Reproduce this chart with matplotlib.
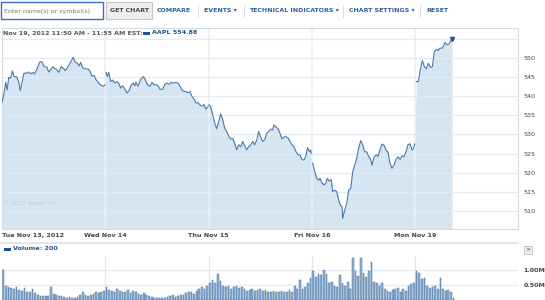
import numpy as np
import matplotlib
matplotlib.use('Agg')
from matplotlib import pyplot as plt
from matplotlib.patches import Rectangle

plt.rcParams['font.family'] = ['DejaVu Sans']

# price: position in trading days since Tue Nov 13 open, AAPL price
t = [0.00, 0.02, 0.036, 0.05, 0.065, 0.084, 0.10, 0.116, 0.142, 0.162, 0.177, 0.194, 0.213, 0.239,
     0.258, 0.278, 0.297, 0.317, 0.342, 0.368, 0.387, 0.407, 0.433, 0.452, 0.471, 0.491, 0.51, 0.53,
     0.549, 0.574, 0.593, 0.613, 0.632, 0.658, 0.69, 0.71, 0.729, 0.748, 0.762, 0.781, 0.806, 0.833,
     0.852, 0.871, 0.891, 0.91, 0.929, 0.949, 0.965, 0.98, 0.997,
     1.007, 1.019, 1.033, 1.052, 1.072, 1.091, 1.11, 1.13, 1.149, 1.168, 1.194, 1.213, 1.232, 1.252,
     1.271, 1.285, 1.297, 1.317, 1.343, 1.368, 1.387, 1.407, 1.433, 1.452, 1.471, 1.491, 1.51, 1.53,
     1.556, 1.575, 1.594, 1.619, 1.639, 1.658, 1.684, 1.704, 1.723, 1.742, 1.762, 1.781, 1.801, 1.82,
     1.839, 1.859, 1.878, 1.897, 1.917, 1.936, 1.955, 1.975, 1.994,
     2.001, 2.02, 2.04, 2.059, 2.078, 2.098, 2.117, 2.137, 2.156, 2.175, 2.195, 2.214, 2.233, 2.253,
     2.272, 2.292, 2.311, 2.33, 2.35, 2.369, 2.388, 2.408, 2.427, 2.446, 2.466, 2.485, 2.504, 2.524,
     2.543, 2.562, 2.582, 2.601, 2.62, 2.633, 2.653, 2.672, 2.691, 2.711, 2.73, 2.749, 2.769, 2.788,
     2.807, 2.827, 2.846, 2.865, 2.885, 2.904, 2.923, 2.943, 2.957, 2.975, 2.988, 2.994,
     3.008, 3.027, 3.046, 3.066, 3.078, 3.098, 3.117, 3.136, 3.149, 3.168, 3.188, 3.201, 3.221, 3.24,
     3.259, 3.279, 3.292, 3.298, 3.318, 3.337, 3.356, 3.376, 3.395, 3.414, 3.434, 3.453, 3.472, 3.492,
     3.511, 3.53, 3.55, 3.569, 3.582, 3.601, 3.621, 3.64, 3.659, 3.679, 3.698, 3.717, 3.737, 3.756,
     3.775, 3.795, 3.814, 3.833, 3.853, 3.872, 3.891, 3.911, 3.93, 3.949, 3.969, 3.981, 3.995,
     4.011, 4.03, 4.049, 4.069, 4.088, 4.107, 4.127, 4.146, 4.166, 4.185, 4.204, 4.224, 4.237, 4.256,
     4.276, 4.288, 4.308, 4.327, 4.346, 4.356]
price = [538.4, 540.8, 543.6, 541.6, 544.9, 544.7, 546.6, 545.1, 545.0, 543.8, 541.4, 543.6, 546.0, 546.0,
         546.3, 545.8, 546.2, 545.8, 547.3, 549.0, 548.9, 547.7, 547.6, 546.3, 546.9, 547.7, 547.2, 546.9,
         546.2, 547.7, 547.3, 546.6, 547.4, 548.6, 550.1, 548.8, 548.6, 547.9, 548.8, 547.4, 547.1, 547.1,
         546.5, 545.2, 545.4, 544.3, 543.7, 543.0, 542.8, 542.6, 542.9,
         546.2, 545.1, 546.2, 543.8, 544.2, 543.4, 543.8, 543.4, 542.1, 542.7, 541.6, 540.8, 541.6, 543.0,
         543.4, 542.7, 543.6, 542.6, 544.4, 545.1, 544.4, 543.0, 542.6, 543.6, 542.9, 543.0, 542.7, 541.8,
         541.8, 543.0, 543.4, 543.1, 543.6, 543.4, 543.6, 543.4, 542.6, 541.6, 541.2, 541.2, 540.9, 541.2,
         539.9, 539.2, 538.2, 538.3, 537.7, 537.4, 537.8, 536.6, 537.3,
         537.7, 537.3, 535.1, 533.0, 531.5, 533.4, 535.4, 533.8, 531.6, 530.8, 529.5, 528.8, 529.0, 527.7,
         526.0, 527.3, 526.8, 528.2, 527.0, 526.0, 526.8, 527.3, 528.2, 527.3, 528.6, 530.8, 529.4, 528.2,
         528.6, 530.3, 530.8, 531.4, 531.2, 532.5, 531.9, 531.6, 530.3, 528.8, 529.4, 529.4, 529.1, 528.2,
         527.3, 526.8, 525.5, 524.7, 524.6, 523.5, 523.3, 524.5, 526.6, 525.5, 526.0, 525.1,
         522.5, 520.3, 518.6, 518.0, 518.6, 517.4, 516.8, 517.4, 518.6, 517.8, 518.2, 515.1, 515.5, 515.1,
         512.9, 511.4, 511.2, 508.1, 510.3, 512.0, 515.5, 515.9, 520.3, 522.0, 523.8, 526.4, 528.4, 527.3,
         525.5, 525.5, 524.2, 523.5, 522.0, 524.0, 524.7, 524.3, 526.0, 527.5, 527.2, 526.0, 525.3, 522.5,
         521.2, 522.0, 523.5, 524.2, 523.5, 524.4, 524.2, 525.5, 527.3, 527.6, 526.0, 526.2, 527.5,
         543.8, 543.8, 546.9, 549.3, 547.7, 547.2, 548.6, 547.5, 547.7, 551.6, 552.2, 551.9, 552.5, 552.5,
         553.1, 554.0, 553.4, 553.6, 554.5, 554.88]

# volume in millions, 10-minute bins
vol_tue = [1.00, 0.47, 0.44, 0.40, 0.38, 0.42, 0.32, 0.30, 0.40, 0.28, 0.25, 0.35, 0.22, 0.15, 0.12, 0.12,
           0.13, 0.12, 0.43, 0.20, 0.15, 0.12, 0.14, 0.10, 0.08, 0.09, 0.07, 0.08, 0.10, 0.18, 0.28, 0.15,
           0.12, 0.18, 0.20, 0.25, 0.22, 0.28, 0.30]
vol_wed = [0.44, 0.33, 0.30, 0.28, 0.35, 0.30, 0.25, 0.28, 0.32, 0.22, 0.30, 0.25, 0.20, 0.18, 0.22, 0.15,
           0.12, 0.10, 0.08, 0.07, 0.08, 0.06, 0.08, 0.10, 0.12, 0.15, 0.10, 0.12, 0.18, 0.15, 0.22, 0.28,
           0.25, 0.20, 0.30, 0.35, 0.42, 0.38, 0.45]
vol_thu = [0.55, 0.65, 0.58, 0.85, 0.62, 0.48, 0.42, 0.45, 0.38, 0.42, 0.45, 0.40, 0.42, 0.35, 0.30, 0.33,
           0.35, 0.30, 0.32, 0.38, 0.30, 0.32, 0.25, 0.28, 0.30, 0.27, 0.25, 0.30, 0.28, 0.25, 0.32, 0.28,
           0.45, 0.35, 0.68, 0.35, 0.42, 0.55, 0.72]
vol_fri = [0.95, 0.75, 0.88, 0.82, 1.00, 0.85, 0.55, 0.60, 0.45, 0.42, 0.82, 0.55, 0.45, 0.60, 0.35, 1.40,
           0.95, 0.80, 1.40, 0.90, 0.75, 0.95, 1.25, 0.60, 0.55, 0.45, 0.55, 0.35, 0.30, 0.25, 0.32, 0.35,
           0.40, 0.25, 0.35, 0.30, 0.45, 0.52, 0.55]
vol_mon = [0.98, 0.90, 0.70, 0.72, 0.45, 0.40, 0.42, 0.48, 0.35, 0.72, 0.38, 0.30, 0.32, 0.25, 0.08]

day_labels = ['Tue Nov 13, 2012', 'Wed Nov 14', 'Thu Nov 15', 'Fri Nov 16', 'Mon Nov 19']
price_ticks = [510, 515, 520, 525, 530, 535, 540, 545, 550]
vol_ticks = [0.5, 1.0]
vol_ticklabels = ['0.50M', '1.00M']

W, H = 545, 300
line_c = '#4a78aa'
fill_c = '#d5e5f1'
grid_c = '#e4ebf2'
edge_c = '#d3dbe3'
text_c = '#444444'
blue_c = '#1f5592'

fig = plt.figure(figsize=(W / 100, H / 100), dpi=100)
fig.patch.set_facecolor('white')

XMAX = 4.995
t = np.array(t)
price = np.array(price)

# ---- price panel
ax = fig.add_axes([2 / W, 1 - 229 / H, 516 / W, (229 - 27.5) / H])
ax.set_facecolor('none')
ax.set_xlim(0, XMAX)
ax.set_ylim(505.35, 557.9)
ax.fill_between(t, price, 505.35, color=fill_c, lw=0, zorder=1)
for k in range(1, 5):
    ax.axvline(k, color='#e9eff5', lw=1.1, zorder=1.5)
for v in price_ticks + [555]:
    ax.axhline(v, color=grid_c, lw=0.9, zorder=1.5)
day = np.floor(t).astype(int)
for d in range(5):
    m = day == d
    ax.plot(t[m], price[m], color=line_c, lw=0.8, zorder=3)
ax.plot(t[-1], price[-1], marker='v', ms=3, color=blue_c, zorder=4)
ax.yaxis.tick_right()
ax.set_yticks(price_ticks)
ax.set_yticklabels([str(v) for v in price_ticks])
ax.set_xticks(range(5))
ax.set_xticklabels(day_labels)
ax.tick_params(length=0, labelsize=4.6, labelcolor=text_c)
ax.tick_params(axis='y', pad=4)
ax.tick_params(axis='x', pad=3)
for lab in ax.get_xticklabels():
    lab.set_fontweight('bold')
ax.get_xticklabels()[0].set_horizontalalignment('left')
for s in ax.spines.values():
    s.set_color(edge_c)
    s.set_linewidth(0.8)
ax.text(0.01, 512, '\u00a9 2012 Yahoo! Inc.', fontsize=4.2, color='#b9cadb', va='center')

# ---- volume panel
av = fig.add_axes([2 / W, 0, 516 / W, 43 / H])
av.set_facecolor('none')
av.set_xlim(0, XMAX)
av.set_ylim(0, 1.433)
for d, vols in enumerate([vol_tue, vol_wed, vol_thu, vol_fri, vol_mon]):
    pos = d + (np.arange(len(vols)) + 0.5) / 39
    av.bar(pos, vols, width=0.65 / 39, color='#95b3d4', edgecolor='#44709f', lw=0.35, zorder=2)
for k in range(1, 5):
    av.axvline(k, color='#e0e7ee', lw=1.0, zorder=1)
for v in vol_ticks:
    av.axhline(v, color=grid_c, lw=0.9, zorder=1)
av.yaxis.tick_right()
av.set_yticks(vol_ticks)
av.set_yticklabels(vol_ticklabels)
av.set_xticks([])
av.tick_params(length=0, labelsize=4.6, labelcolor=text_c, pad=4)
for lab in av.get_yticklabels():
    lab.set_fontweight('bold')
for s in av.spines.values():
    s.set_visible(False)

# ---- page chrome in pixel coordinates
ui = fig.add_axes([0, 0, 1, 1])
ui.set_xlim(0, W)
ui.set_ylim(H, 0)
ui.axis('off')
ui.patch.set_alpha(0)

ui.add_patch(Rectangle((1, 2), 102, 17, fc='white', ec='#3b6cc4', lw=1.0))
ui.text(4, 11, 'Enter name(s) or symbol(s)', fontsize=4.5, color='#777777', va='center')
ui.add_patch(Rectangle((106, 2), 46, 17, fc='#eeeeee', ec='#c6c6c6', lw=0.8))
ui.text(129, 11, 'GET CHART', fontsize=4.5, color='#444444', va='center', ha='center', fontweight='bold')
menu = [(157, 'COMPARE'), (204, 'EVENTS \u25be'), (249, 'TECHNICAL INDICATORS \u25be'),
        (349, 'CHART SETTINGS \u25be'), (426, 'RESET')]
for x, s in menu:
    ui.text(x, 11, s, fontsize=4.5, color='#2e5e9a', va='center', fontweight='bold')
for x in [198, 244, 343, 420]:
    ui.plot([x, x], [5, 17], color='#d5dbe2', lw=0.7)

ui.text(3, 33, 'Nov 19, 2012 11:50 AM - 11:55 AM EST:', fontsize=4.5, color='#555555',
        va='center', fontweight='bold')
ui.add_patch(Rectangle((143, 31.5), 7, 3, fc=blue_c, ec='none'))
ui.text(152, 33, 'AAPL 554.88', fontsize=4.6, color=blue_c, va='center', fontweight='bold')

ui.plot([0, 518], [243, 243], color='#dde3ea', lw=1.2)
ui.add_patch(Rectangle((4, 247.5), 7, 3, fc=blue_c, ec='none'))
ui.text(13, 249, 'Volume: 200', fontsize=4.6, color=blue_c, va='center', fontweight='bold')
ui.add_patch(Rectangle((524, 246), 8, 8, fc='#eeeeee', ec='#bbbbbb', lw=0.6))
ui.text(528, 250, '\u00d7', fontsize=4.5, color='#555555', va='center', ha='center')

fig.savefig('out.png', dpi=100)
